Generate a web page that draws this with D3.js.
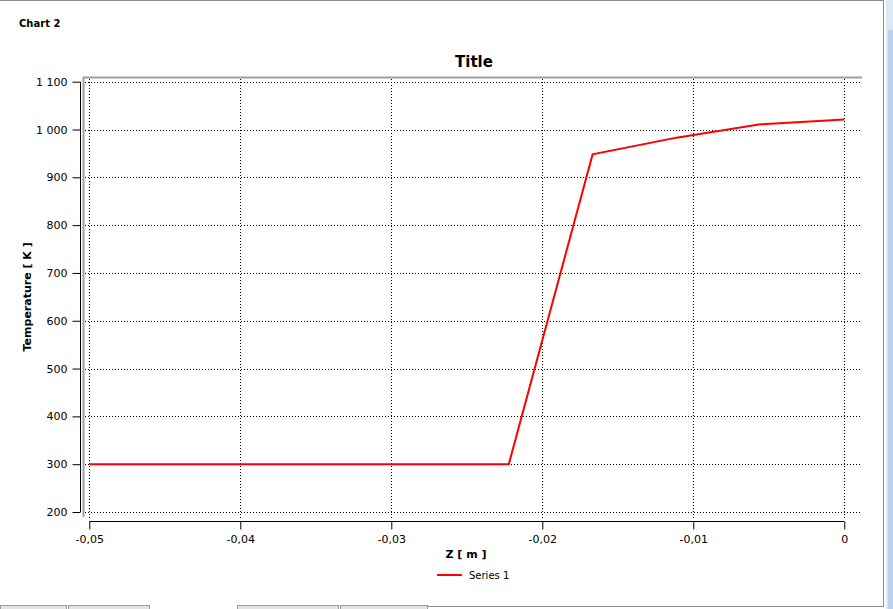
<!DOCTYPE html>
<html>
<head>
<meta charset="utf-8">
<script src="https://cdn.jsdelivr.net/npm/d3@7/dist/d3.min.js"></script>
<style>
  html, body { margin: 0; padding: 0; background: #fff; }
  svg { display: block; }
  text { font-family: "DejaVu Sans", sans-serif; }
</style>
</head>
<body>
<svg id="chart" width="893" height="609"></svg>
<script>
// ---- data ----
const zValues = [-0.05, -0.04444, -0.03889, -0.03333, -0.02778, -0.02222, -0.01667, -0.01111, -0.00556, 0];
const tempValues = [300, 300, 300, 300, 300, 300, 948, 983, 1011, 1021];
const xTicks = [-0.05, -0.04, -0.03, -0.02, -0.01, 0];
const xMinorTicks = d3.range(-50, 1, 2).map(v => v / 1000);
const yTicks = [200, 300, 400, 500, 600, 700, 800, 900, 1000, 1100];
const yMinorTicks = d3.range(200, 1101, 20);
const seriesName = "Series 1";
const chartTitle = "Title";
const panelTitle = "Chart 2";
const xLabel = "Z [ m ]";
const yLabel = "Temperature [ K ]";

const svg = d3.select("#chart");

// window chrome
svg.append("line").attr("x1", 0).attr("x2", 884).attr("y1", 0.5).attr("y2", 0.5).attr("stroke", "#8c8c8c");
svg.append("line").attr("x1", 883.5).attr("x2", 883.5).attr("y1", 0).attr("y2", 606).attr("stroke", "#8c8c8c");
svg.append("rect").attr("x", 886).attr("y", 0).attr("width", 7).attr("height", 609).attr("fill", "#dce8f5");
svg.append("rect").attr("x", 888).attr("y", 30).attr("width", 5).attr("height", 579).attr("fill", "#b9d1ea");
svg.append("line").attr("x1", 428).attr("x2", 884).attr("y1", 606.5).attr("y2", 606.5).attr("stroke", "#8c8c8c");
[[0, 67], [68, 150], [237, 339], [340, 428]].forEach(([a, b]) => {
  svg.append("rect").attr("x", a + 0.5).attr("y", 605.5).attr("width", b - a - 1).attr("height", 5)
    .attr("fill", "#e3e3e3").attr("stroke", "#9a9a9a");
});

svg.append("text").attr("x", 19).attr("y", 27).attr("font-size", 10).attr("font-weight", "bold")
  .attr("fill", "#000").text(panelTitle);

// scales
const x = d3.scaleLinear().domain([-0.05, 0]).range([89.3, 844.3]);
const y = d3.scaleLinear().domain([200, 1100]).range([512, 81.7]);

const fmtX = v => v === 0 ? "0" : d3.format(".2f")(v).replace("−", "-").replace(".", ",");
const fmtY = v => d3.format(",")(v).replace(/,/g, "\u00a0");

// plot frame (gray)
svg.append("path").attr("d", "M83.5,517 V77.5 H862").attr("fill", "none").attr("stroke", "#a0a0a0").attr("stroke-width", 2);

// grid
const grid = svg.append("g");
yTicks.forEach(t => {
  grid.append("line").attr("x1", 85).attr("x2", 860).attr("y1", Math.round(y(t)) + 0.5).attr("y2", Math.round(y(t)) + 0.5)
    .attr("stroke", "#000").attr("stroke-dasharray", "1,2");
});
xTicks.forEach(t => {
  grid.append("line").attr("x1", Math.round(x(t)) + 0.5).attr("x2", Math.round(x(t)) + 0.5).attr("y1", 79).attr("y2", 520)
    .attr("stroke", "#000").attr("stroke-dasharray", "1,2");
});

// y axis
const yAxisG = svg.append("g").attr("transform", "translate(80.5,0)");
yAxisG.call(d3.axisLeft(y).tickValues(yMinorTicks).tickSize(4).tickFormat(""));
yAxisG.call(d3.axisLeft(y).tickValues(yTicks).tickSize(8).tickFormat(fmtY));
yAxisG.selectAll(".domain").attr("d", `M0,${y(1100)}V${y(200)}`);
yAxisG.selectAll("text").attr("font-size", 11).attr("font-family", "DejaVu Sans").attr("fill", "#000").attr("x", -13);
yAxisG.selectAll("line, path").attr("stroke", "#000");

// x axis
const xAxisG = svg.append("g").attr("transform", "translate(0,521.5)");
xAxisG.call(d3.axisBottom(x).tickValues(xMinorTicks).tickSize(5).tickFormat(""));
xAxisG.call(d3.axisBottom(x).tickValues(xTicks).tickSize(8).tickFormat(fmtX));
xAxisG.selectAll(".domain").attr("d", `M${x(-0.05)},0H${x(0)}`);
xAxisG.selectAll("text").attr("font-size", 11).attr("font-family", "DejaVu Sans").attr("fill", "#000").attr("y", 14);
xAxisG.selectAll("line, path").attr("stroke", "#000");

// line
const line = d3.line().x((d, i) => x(zValues[i])).y(d => y(d));
svg.append("path").datum(tempValues).attr("d", line).attr("fill", "none")
  .attr("stroke", "#ff0000").attr("stroke-width", 2).attr("stroke-linejoin", "miter");

// titles
svg.append("text").attr("x", 474).attr("y", 67).attr("text-anchor", "middle").attr("font-size", 15)
  .attr("font-weight", "bold").text(chartTitle);
svg.append("text").attr("x", 466).attr("y", 558).attr("text-anchor", "middle").attr("font-size", 11)
  .attr("font-weight", "bold").text(xLabel);
svg.append("text").attr("transform", `translate(31,${(y(1100) + y(200)) / 2}) rotate(-90)`)
  .attr("text-anchor", "middle").attr("font-size", 11).attr("font-weight", "bold").text(yLabel);

// legend
svg.append("line").attr("x1", 437).attr("x2", 462).attr("y1", 575).attr("y2", 575).attr("stroke", "#ff0000").attr("stroke-width", 2);
svg.append("text").attr("x", 469).attr("y", 579).attr("font-size", 10).text(seriesName);
</script>
</body>
</html>
